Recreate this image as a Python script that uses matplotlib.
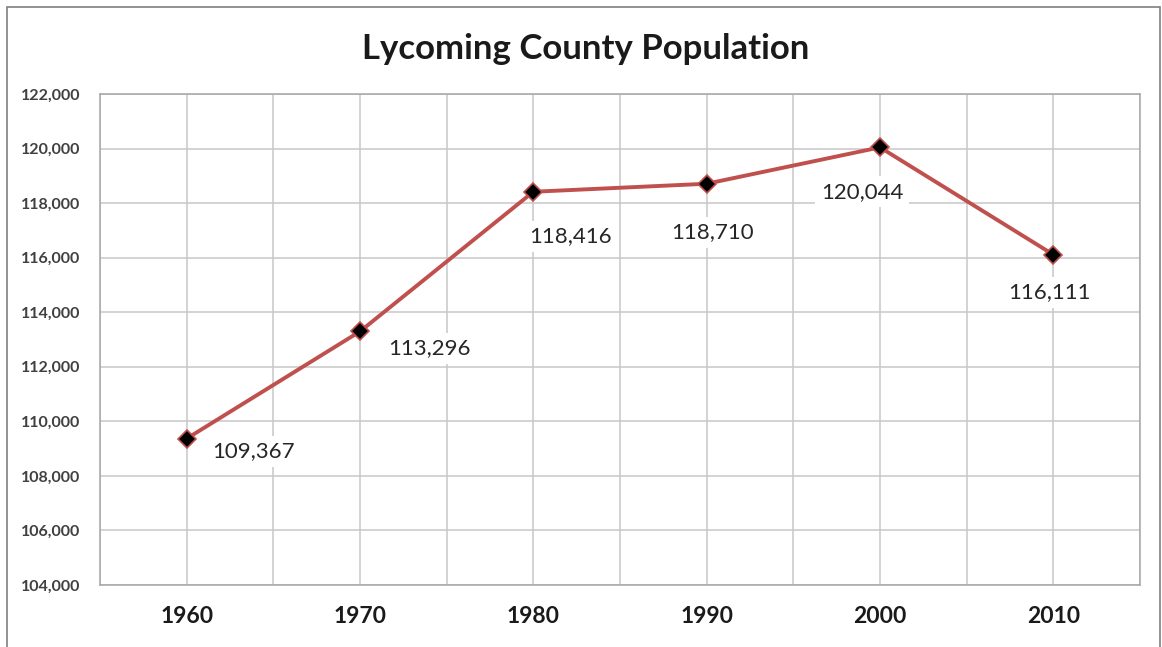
import matplotlib
matplotlib.use("Agg")
import matplotlib.pyplot as plt
from matplotlib.ticker import FuncFormatter, MultipleLocator
from matplotlib.patches import Rectangle

years = ["1960", "1970", "1980", "1990", "2000", "2010"]
population = [109367, 113296, 118416, 118710, 120044, 116111]
data_labels = ["109,367", "113,296", "118,416", "118,710", "120,044", "116,111"]
# label offsets in points (dx, dy) relative to each point
label_offsets = [(48, -9), (50, -12), (27, -32), (4, -35), (-13, -32), (-3, -27)]

plt.rcParams['font.family'] = ['Lato', 'DejaVu Sans']

fig = plt.figure(figsize=(11.62, 6.47), dpi=100)
fig.patch.set_facecolor("white")
# outer border
fig.add_artist(Rectangle((7/1162, -0.01), (1160-7)/1162, (647-7)/647 + 0.01,
                         transform=fig.transFigure, fill=False,
                         edgecolor="#7f7f7f", linewidth=1.2))

ax = fig.add_axes([100/1162, 62/647, 1040/1162, 491/647])
x = list(range(len(years)))

ax.set_xlim(-0.5, len(years) - 0.5)
ax.set_ylim(104000, 122000)
ax.yaxis.set_major_locator(MultipleLocator(2000))
ax.yaxis.set_major_formatter(FuncFormatter(lambda v, p: f"{int(v):,}"))
ax.set_xticks(x)
ax.set_xticklabels(years, fontsize=16.5, fontweight="bold", color="#1a1a1a")
ax.set_xticks([i - 0.5 for i in range(len(years) + 1)], minor=True)
ax.tick_params(axis="both", which="both", length=0)
ax.tick_params(axis="x", pad=15)
ax.tick_params(axis="y", labelsize=11.5, labelcolor="#404040", pad=14)
for lab in ax.get_yticklabels():
    lab.set_fontweight("bold")

ax.grid(True, which="major", color="#c8c8c8", linewidth=1.1)
ax.grid(True, which="minor", axis="x", color="#c8c8c8", linewidth=1.1)
ax.set_axisbelow(True)
for s in ax.spines.values():
    s.set_color("#a6a6a6")
    s.set_linewidth(1.1)

ax.plot(x, population, color="#C0504D", linewidth=2.8, zorder=3,
        marker="D", markersize=9, markerfacecolor="black",
        markeredgecolor="#C0504D", markeredgewidth=1.2)

for xi, yi, lab, (dx, dy) in zip(x, population, data_labels, label_offsets):
    ax.annotate(lab, (xi, yi), xytext=(dx, dy), textcoords="offset points",
                ha="center", va="center", fontsize=16, color="#262626",
                bbox=dict(boxstyle="square,pad=0.25", facecolor="white",
                          edgecolor="none"), zorder=4)

fig.text(586/1162, 1 - 49/647, "Lycoming County Population", ha="center",
         va="center", fontsize=25, fontweight="bold", color="#1a1a1a")

fig.savefig("out.png", dpi=100, facecolor="white")
